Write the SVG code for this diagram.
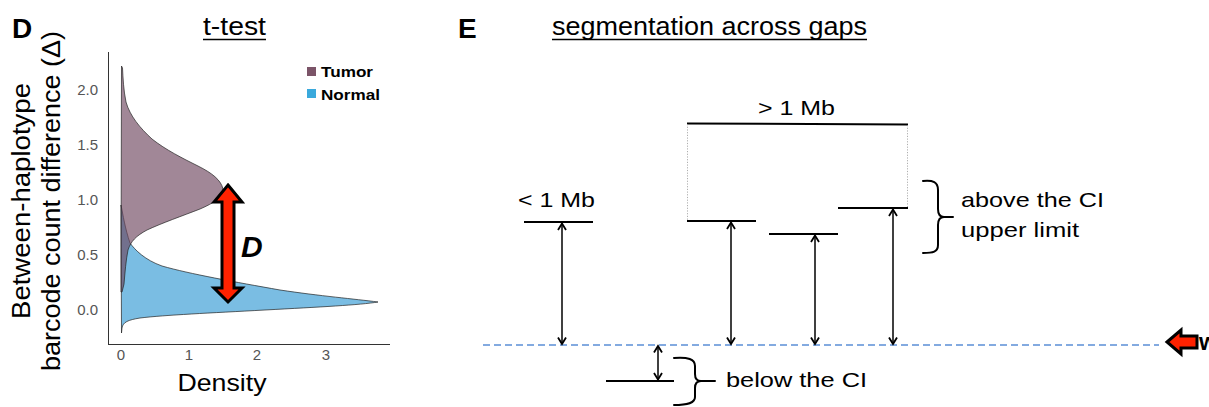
<svg xmlns="http://www.w3.org/2000/svg" width="1209" height="407" viewBox="0 0 1209 407">
<style>
text{font-family:"Liberation Sans",Arial,Helvetica,sans-serif;fill:#000}
.panel{font-size:28px;font-weight:bold}
.title{font-size:25px}
.tick{font-size:15px;fill:#555}
.lbl{font-size:21px}
.axis{stroke:#333;stroke-width:1;fill:none}
.seg{stroke:#000;stroke-width:2;fill:none}
.arr{stroke:#000;stroke-width:1.5;fill:none;marker-start:url(#ah);marker-end:url(#ah)}
.brace{stroke:#000;stroke-width:2;fill:none;stroke-linecap:round}
.dot{stroke:#999;stroke-width:0.8;stroke-dasharray:1.2 1.5;fill:none}
.red{fill:#ff2200;stroke:#000;stroke-width:3;stroke-linejoin:miter}
</style>
<defs>
<marker id="ah" viewBox="-8 -5 10 10" refX="0" refY="0" markerWidth="10" markerHeight="10" markerUnits="userSpaceOnUse" orient="auto-start-reverse">
<path d="M-6.5,-4 L0,0 L-6.5,4" fill="none" stroke="#000" stroke-width="1.8"/>
</marker>
</defs>
<rect width="1209" height="407" fill="#fff"/>

<g id="panelD">
<text class="panel" x="12" y="38">D</text>
<text class="title" x="203" y="35" textLength="63" lengthAdjust="spacingAndGlyphs">t-test</text>
<line x1="203" y1="39.5" x2="266" y2="39.5" stroke="#000" stroke-width="1.6"/>

<g id="ylabel">
<text transform="translate(30,201) rotate(-90)" text-anchor="middle" font-size="25.5" textLength="236" lengthAdjust="spacingAndGlyphs">Between-haplotype</text>
<text transform="translate(60,201) rotate(-90)" text-anchor="middle" font-size="25.5" textLength="340" lengthAdjust="spacingAndGlyphs">barcode count difference (Δ)</text>
</g>

<g id="axes">
<line class="axis" x1="108.5" y1="52" x2="108.5" y2="344.5"/>
<line class="axis" x1="108" y1="344.5" x2="390" y2="344.5"/>
<g text-anchor="end">
<text class="tick" x="98" y="94.5">2.0</text>
<text class="tick" x="98" y="149.5">1.5</text>
<text class="tick" x="98" y="204.5">1.0</text>
<text class="tick" x="98" y="259.5">0.5</text>
<text class="tick" x="98" y="314.5">0.0</text>
</g>
<g text-anchor="middle">
<text class="tick" x="121" y="360">0</text>
<text class="tick" x="189" y="360">1</text>
<text class="tick" x="257" y="360">2</text>
<text class="tick" x="326" y="360">3</text>
</g>
<text x="222" y="391" text-anchor="middle" font-size="24" textLength="89" lengthAdjust="spacingAndGlyphs">Density</text>
</g>

<g id="normal">
<path d="M121,205 C123,215 125,228 130,243 C135,250 145,260 162,266 C190,274 235,282 280,290 C320,296 355,299 378,302 C360,305 320,307 265,310 C210,313 165,315 140,318 C128,320 123,322 122,328 L121.5,333 L121,205 Z" fill="#7abde3" stroke="#222" stroke-width="0.7"/>
</g>

<g id="tumor">
<path d="M121.5,66 L122.5,68 C123,78 123.5,90 126,102 C130,116 140,128 152,139 C166,150 182,158 198,166 C212,173 221,180 223,189 C223,197 214,203 200,209 C182,216 162,223 147,230 C136,236 131,241 128,250 C126,260 125,272 124,284 L122,292 L121,292 Z" fill="#6e4660" fill-opacity="0.65" stroke="#222" stroke-width="0.7"/>
</g>

<g id="legend">
<rect x="307" y="67" width="9" height="9" fill="#7b5468"/>
<text x="321" y="77" font-size="14.5" font-weight="bold" textLength="52" lengthAdjust="spacingAndGlyphs">Tumor</text>
<rect x="307" y="89" width="9" height="9" fill="#3aa9dc"/>
<text x="321" y="100" font-size="14.5" font-weight="bold" textLength="59" lengthAdjust="spacingAndGlyphs">Normal</text>
</g>

<g id="Darrow">
<path class="red" d="M228,185 L242,202 L234,202 L234,288 L242,288 L228,302 L214,288 L222,288 L222,202 L214,202 Z"/>
<text x="241" y="257" font-size="30" font-weight="bold" font-style="italic">D</text>
</g>
</g>

<g id="panelE">
<text class="panel" x="458" y="38">E</text>
<text class="title" x="552" y="35" textLength="315" lengthAdjust="spacingAndGlyphs">segmentation across gaps</text>
<line x1="552" y1="39.5" x2="867" y2="39.5" stroke="#000" stroke-width="1.6"/>

<g id="baseline">
<line x1="483" y1="345" x2="1159" y2="345" stroke="#5b8ed6" stroke-width="1.6" stroke-dasharray="7 4"/>
</g>

<g id="seg-small">
<line class="seg" x1="524" y1="222" x2="593" y2="222"/>
<text class="lbl" x="518" y="207" textLength="77" lengthAdjust="spacingAndGlyphs">&lt; 1 Mb</text>
</g>

<g id="seg-large">
<line class="seg" x1="687" y1="123.5" x2="908" y2="124.5"/>
<line class="dot" x1="687.5" y1="124" x2="687.5" y2="221"/>
<line class="dot" x1="907.5" y1="125" x2="907.5" y2="208"/>
<text class="lbl" x="758" y="115" textLength="77" lengthAdjust="spacingAndGlyphs">&gt; 1 Mb</text>
<line class="seg" x1="687" y1="221" x2="756" y2="221"/>
<line class="seg" x1="769" y1="234" x2="838" y2="234"/>
<line class="seg" x1="838" y1="208" x2="908" y2="208"/>
</g>

<g id="seg-below">
<line class="seg" x1="606" y1="381" x2="674" y2="381"/>
</g>

<g id="connectors">
<line class="arr" x1="562" y1="223.5" x2="562" y2="344"/>
<line class="arr" x1="731" y1="222.5" x2="731" y2="344"/>
<line class="arr" x1="815" y1="235.5" x2="815" y2="344"/>
<line class="arr" x1="893" y1="209.5" x2="893" y2="344"/>
<line class="arr" x1="658" y1="346" x2="658" y2="379.5"/>
</g>

<g id="above-label">
<path class="brace" d="M923,181 C933,180 938,182 938,190 L938,209 C938,215 940,217 944,217 L953,217 M944,217 C940,217 938,219 938,225 L938,245 C938,252 933,253 923,253"/>
<text class="lbl" x="961" y="207" textLength="143" lengthAdjust="spacingAndGlyphs">above the CI</text>
<text class="lbl" x="961" y="237" textLength="118" lengthAdjust="spacingAndGlyphs">upper limit</text>
</g>

<g id="below-label">
<path class="brace" d="M674,358 C688,357 695,359 695,366 L695,374 C695,379 697,381 701,381 L715,381 M701,381 C697,381 695,383 695,388 L695,397 C695,403 688,405 674,405"/>
<text class="lbl" x="726" y="387" textLength="141" lengthAdjust="spacingAndGlyphs">below the CI</text>
</g>

<g id="pointer">
<path class="red" stroke-width="2.5" d="M1167,342 L1181,330 L1181,336 L1197,336 L1197,348 L1181,348 L1181,354 Z"/>
<text x="1199" y="350" font-size="24" font-weight="bold">w</text>
</g>
</g>
</svg>
